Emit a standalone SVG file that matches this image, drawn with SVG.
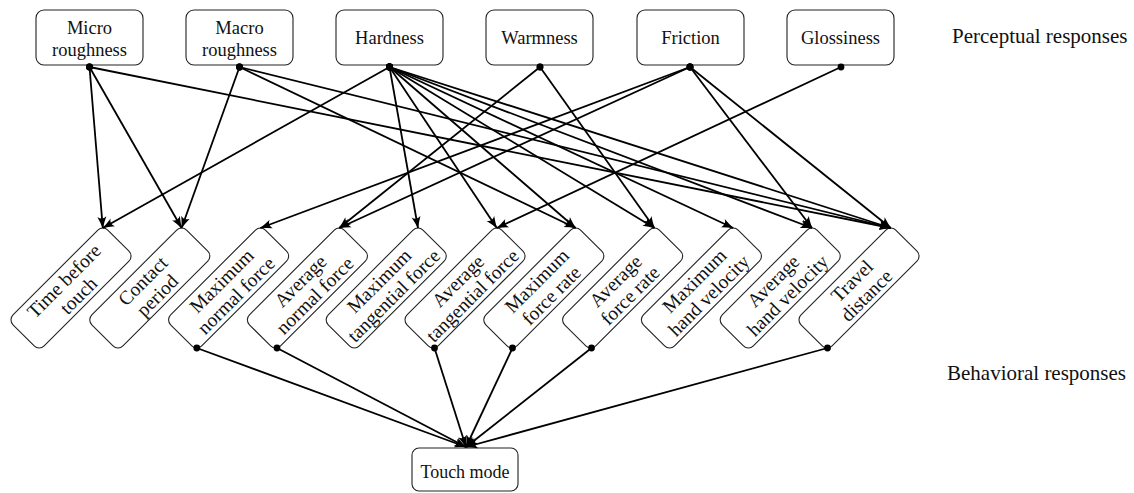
<svg xmlns="http://www.w3.org/2000/svg" width="1134" height="493" viewBox="0 0 1134 493">
  <style>
    .box { fill: #ffffff; stroke: #222222; stroke-width: 1.1; }
    .lbl { font-family: "Liberation Serif", "Times New Roman", serif; font-size: 18.5px; fill: #111111; text-anchor: middle; }
    .tilt .lbl { font-size: 19.5px; }
    .side { font-family: "Liberation Serif", "Times New Roman", serif; font-size: 21px; fill: #111111; }
    .edge { stroke: #000000; stroke-width: 1.8; fill: none; marker-start: url(#dot); marker-end: url(#head); }
  </style>
  <defs>
    <marker id="head" markerUnits="userSpaceOnUse" viewBox="0 0 12 10" refX="11.5" refY="5" markerWidth="12" markerHeight="10" orient="auto">
      <path d="M0,0.5 Q6,3.2 12,5 Q6,6.8 0,9.5 Q4,5 0,0.5 Z" fill="#000000"/>
    </marker>
    <marker id="dot" markerUnits="userSpaceOnUse" viewBox="-4 -4 8 8" refX="0" refY="0" markerWidth="8" markerHeight="8">
      <circle cx="0" cy="0" r="3.4" fill="#000000"/>
    </marker>
  </defs>

  <rect width="1134" height="493" fill="#ffffff"/>

  <!-- perceptual responses (top row) -->
  <g id="micro-roughness">
    <rect class="box" x="36" y="10" width="107" height="55" rx="8"/>
    <text class="lbl" x="89.5" y="34">Micro</text>
    <text class="lbl" x="89.5" y="56">roughness</text>
  </g>
  <g id="macro-roughness">
    <rect class="box" x="186" y="10" width="107" height="55" rx="8"/>
    <text class="lbl" x="239.5" y="34">Macro</text>
    <text class="lbl" x="239.5" y="56">roughness</text>
  </g>
  <g id="hardness">
    <rect class="box" x="336" y="10" width="107" height="55" rx="8"/>
    <text class="lbl" x="389.5" y="44">Hardness</text>
  </g>
  <g id="warmness">
    <rect class="box" x="486" y="10" width="107" height="55" rx="8"/>
    <text class="lbl" x="539.5" y="44">Warmness</text>
  </g>
  <g id="friction">
    <rect class="box" x="637" y="10" width="107" height="55" rx="8"/>
    <text class="lbl" x="690.5" y="44">Friction</text>
  </g>
  <g id="glossiness">
    <rect class="box" x="787" y="10" width="107" height="55" rx="8"/>
    <text class="lbl" x="840.5" y="44">Glossiness</text>
  </g>

  <!-- behavioral responses (tilted row) -->
  <g id="time-before-touch" class="tilt" transform="translate(71,288) rotate(-45)">
    <rect class="box" x="-67" y="-22" width="134" height="44" rx="7"/>
    <text class="lbl" x="0" y="-3.4">Time before</text>
    <text class="lbl" x="0" y="17.1">touch</text>
  </g>
  <g id="contact-period" class="tilt" transform="translate(149.8,288) rotate(-45)">
    <rect class="box" x="-67" y="-22" width="134" height="44" rx="7"/>
    <text class="lbl" x="0" y="-3.4">Contact</text>
    <text class="lbl" x="0" y="17.1">period</text>
  </g>
  <g id="max-normal-force" class="tilt" transform="translate(228.6,288) rotate(-45)">
    <rect class="box" x="-67" y="-22" width="134" height="44" rx="7"/>
    <text class="lbl" x="0" y="-3.4">Maximum</text>
    <text class="lbl" x="0" y="17.1">normal force</text>
  </g>
  <g id="avg-normal-force" class="tilt" transform="translate(307.4,288) rotate(-45)">
    <rect class="box" x="-67" y="-22" width="134" height="44" rx="7"/>
    <text class="lbl" x="0" y="-3.4">Average</text>
    <text class="lbl" x="0" y="17.1">normal force</text>
  </g>
  <g id="max-tangential-force" class="tilt" transform="translate(386.2,288) rotate(-45)">
    <rect class="box" x="-67" y="-22" width="134" height="44" rx="7"/>
    <text class="lbl" x="0" y="-3.4">Maximum</text>
    <text class="lbl" x="0" y="17.1">tangential force</text>
  </g>
  <g id="avg-tangential-force" class="tilt" transform="translate(465,288) rotate(-45)">
    <rect class="box" x="-67" y="-22" width="134" height="44" rx="7"/>
    <text class="lbl" x="0" y="-3.4">Average</text>
    <text class="lbl" x="0" y="17.1">tangential force</text>
  </g>
  <g id="max-force-rate" class="tilt" transform="translate(543.8,288) rotate(-45)">
    <rect class="box" x="-67" y="-22" width="134" height="44" rx="7"/>
    <text class="lbl" x="0" y="-3.4">Maximum</text>
    <text class="lbl" x="0" y="17.1">force rate</text>
  </g>
  <g id="avg-force-rate" class="tilt" transform="translate(622.6,288) rotate(-45)">
    <rect class="box" x="-67" y="-22" width="134" height="44" rx="7"/>
    <text class="lbl" x="0" y="-3.4">Average</text>
    <text class="lbl" x="0" y="17.1">force rate</text>
  </g>
  <g id="max-hand-velocity" class="tilt" transform="translate(701.4,288) rotate(-45)">
    <rect class="box" x="-67" y="-22" width="134" height="44" rx="7"/>
    <text class="lbl" x="0" y="-3.4">Maximum</text>
    <text class="lbl" x="0" y="17.1">hand velocity</text>
  </g>
  <g id="avg-hand-velocity" class="tilt" transform="translate(780.2,288) rotate(-45)">
    <rect class="box" x="-67" y="-22" width="134" height="44" rx="7"/>
    <text class="lbl" x="0" y="-3.4">Average</text>
    <text class="lbl" x="0" y="17.1">hand velocity</text>
  </g>
  <g id="travel-distance" class="tilt" transform="translate(859,288) rotate(-45)">
    <rect class="box" x="-67" y="-22" width="134" height="44" rx="7"/>
    <text class="lbl" x="0" y="-3.4">Travel</text>
    <text class="lbl" x="0" y="17.1">distance</text>
  </g>

  <!-- outcome -->
  <g id="touch-mode">
    <rect class="box" x="412" y="448" width="106" height="43" rx="7"/>
    <text class="lbl" x="465" y="478" style="font-size:18px">Touch mode</text>
  </g>

  <!-- row captions -->
  <g id="captions">
    <text class="side" x="952" y="43">Perceptual responses</text>
    <text class="side" x="947" y="380">Behavioral responses</text>
  </g>

  <!-- connectors: dot at the source, arrowhead at the target -->
  <g id="connectors">
    <!-- micro roughness -->
    <line class="edge" x1="89.5" y1="67" x2="102.8" y2="228"/>
    <line class="edge" x1="89.5" y1="67" x2="181.6" y2="228"/>
    <line class="edge" x1="89.5" y1="67" x2="890.8" y2="228"/>
    <!-- macro roughness -->
    <line class="edge" x1="239.5" y1="67" x2="181.6" y2="228"/>
    <line class="edge" x1="239.5" y1="67" x2="575.6" y2="228"/>
    <line class="edge" x1="239.5" y1="67" x2="890.8" y2="228"/>
    <!-- hardness -->
    <line class="edge" x1="389.5" y1="67" x2="102.8" y2="228"/>
    <line class="edge" x1="389.5" y1="67" x2="418" y2="228"/>
    <line class="edge" x1="389.5" y1="67" x2="496.8" y2="228"/>
    <line class="edge" x1="389.5" y1="67" x2="575.6" y2="228"/>
    <line class="edge" x1="389.5" y1="67" x2="654.4" y2="228"/>
    <line class="edge" x1="389.5" y1="67" x2="733.2" y2="228"/>
    <line class="edge" x1="389.5" y1="67" x2="812" y2="228"/>
    <line class="edge" x1="389.5" y1="67" x2="890.8" y2="228"/>
    <!-- warmness -->
    <line class="edge" x1="540" y1="67" x2="339.2" y2="228"/>
    <line class="edge" x1="540" y1="67" x2="654.4" y2="228"/>
    <!-- friction -->
    <line class="edge" x1="690" y1="67" x2="260.4" y2="228"/>
    <line class="edge" x1="690" y1="67" x2="339.2" y2="228"/>
    <line class="edge" x1="690" y1="67" x2="812" y2="228"/>
    <line class="edge" x1="690" y1="67" x2="890.8" y2="228"/>
    <!-- glossiness -->
    <line class="edge" x1="841" y1="67" x2="496.8" y2="228"/>
    <!-- behavioral responses to touch mode -->
    <line class="edge" x1="196.8" y1="348" x2="466" y2="447"/>
    <line class="edge" x1="277" y1="348" x2="466" y2="447"/>
    <line class="edge" x1="434.5" y1="348" x2="466" y2="447"/>
    <line class="edge" x1="512.5" y1="348" x2="466" y2="447"/>
    <line class="edge" x1="591.5" y1="348" x2="466" y2="447"/>
    <line class="edge" x1="827.5" y1="348" x2="466" y2="447"/>
  </g>
</svg>
